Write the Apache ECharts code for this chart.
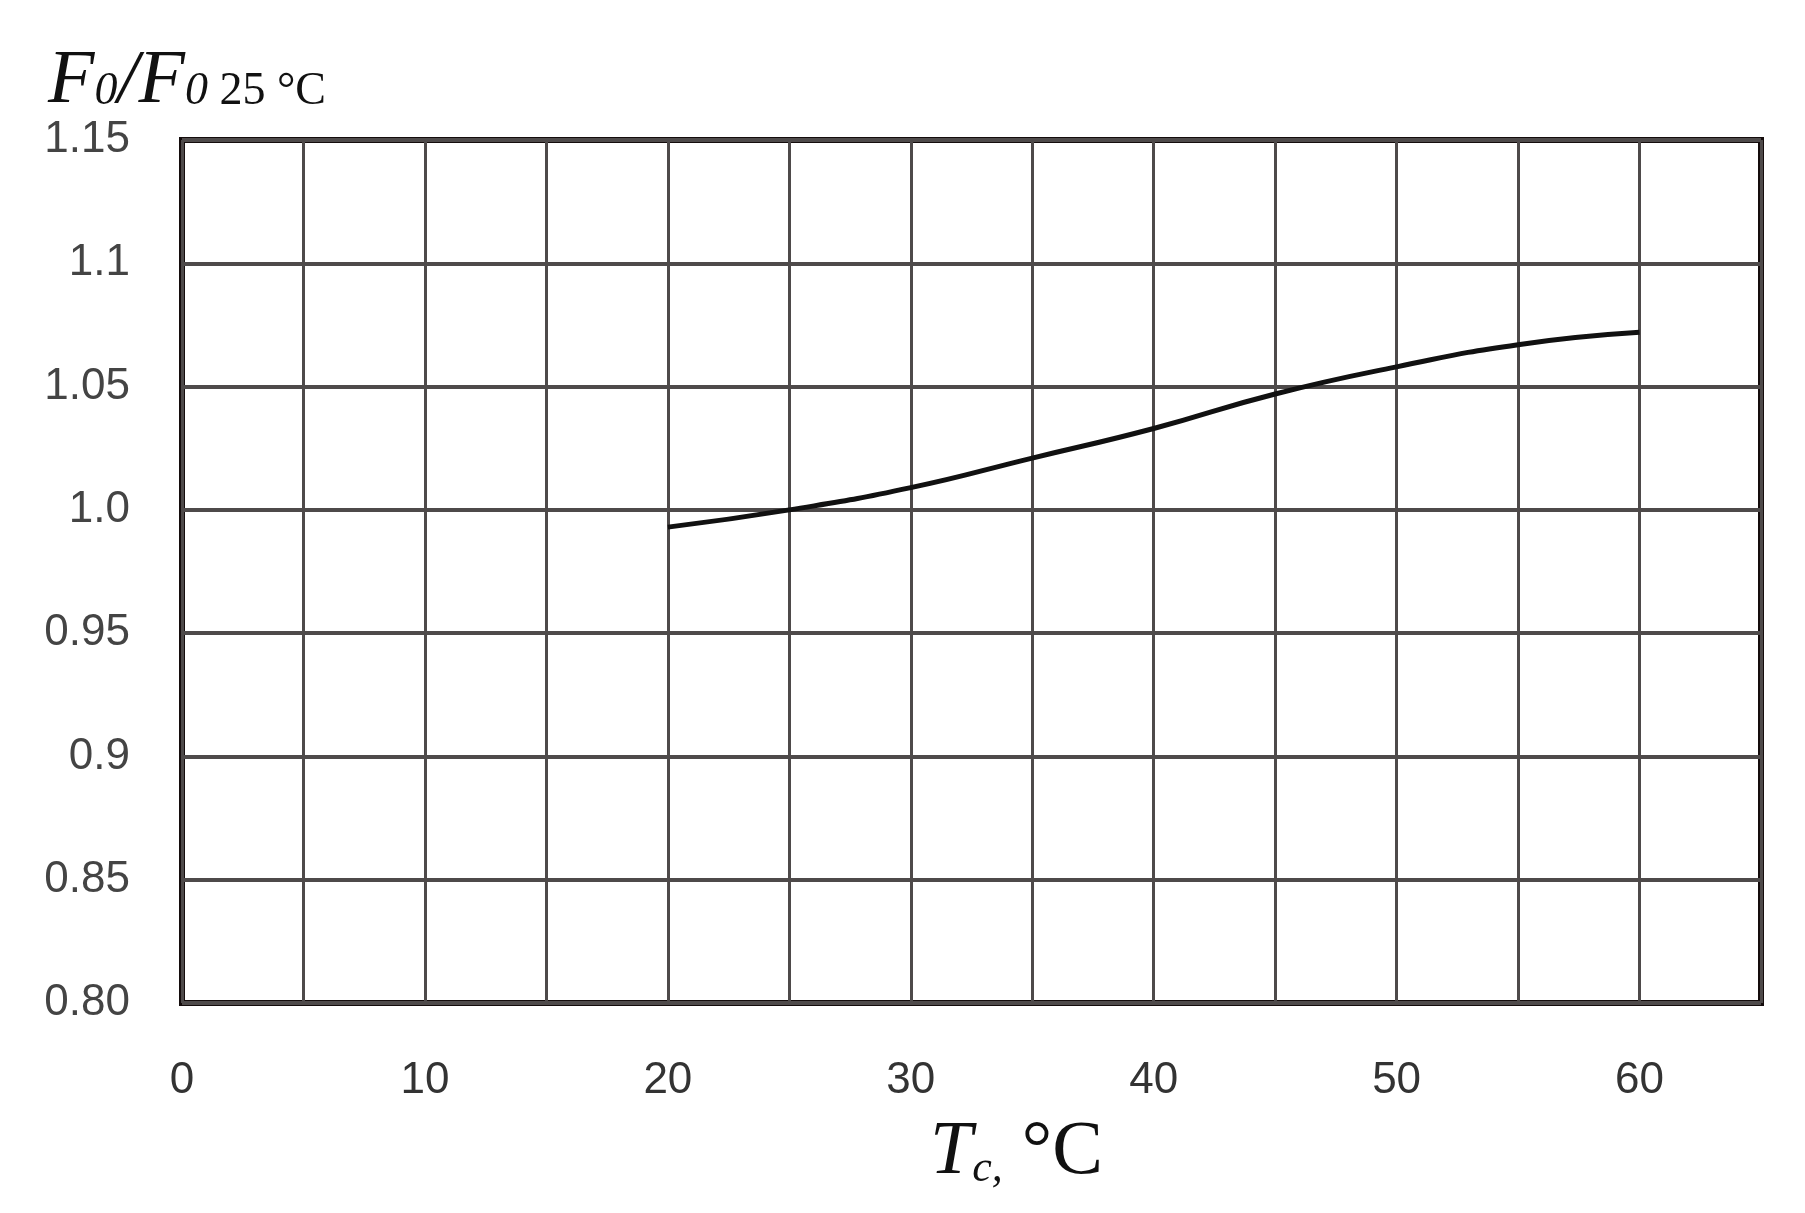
<!DOCTYPE html>
<html>
<head>
<meta charset="utf-8">
<script src="https://cdn.jsdelivr.net/npm/echarts@6/dist/echarts.min.js"></script>
<style>
html,body{margin:0;padding:0;background:#fff;}
#chart{width:1805px;height:1213px;}
</style>
</head>
<body>
<div id="chart"></div>
<script>
// Data
const tempC = [20, 25, 30, 35, 40, 45, 50, 55, 60];
const ratio = [0.993, 1.000, 1.009, 1.021, 1.033, 1.047, 1.058, 1.067, 1.072];
const xTickLabels = {0: '0', 10: '10', 20: '20', 30: '30', 40: '40', 50: '50', 60: '60'};
const yTickLabels = ['0.80', '0.85', '0.9', '0.95', '1.0', '1.05', '1.1', '1.15'];
const yTickValues = [0.80, 0.85, 0.90, 0.95, 1.00, 1.05, 1.10, 1.15];

const chart = echarts.init(document.getElementById('chart'), null, {renderer: 'canvas'});
const serif = '"Liberation Serif", "DejaVu Serif", serif';
const sans = '"Liberation Sans", Arial, sans-serif';

function yLabel(v) {
  for (let i = 0; i < yTickValues.length; i++) {
    if (Math.abs(yTickValues[i] - v) < 1e-6) return yTickLabels[i];
  }
  return '';
}
function xLabel(v) {
  const k = Math.round(v);
  return (Math.abs(v - k) < 1e-6 && xTickLabels[k] !== undefined) ? xTickLabels[k] : '';
}

chart.setOption({
  animation: false,
  backgroundColor: '#ffffff',
  title: [
    {
      left: 43, top: 39,
      text: '{a|F}{b|0}{a|/F}{b|0 }{c|25 °C}',
      textStyle: {
        fontWeight: 'normal',
        rich: {
          a: {fontFamily: serif, fontStyle: 'italic', fontWeight: 'normal', fontSize: 76, color: '#111', lineHeight: 76, verticalAlign: 'bottom'},
          b: {fontFamily: serif, fontStyle: 'italic', fontWeight: 'normal', fontSize: 46, color: '#111', lineHeight: 46, verticalAlign: 'bottom', padding: [0,0,5,0]},
          c: {fontFamily: serif, fontWeight: 'normal', fontSize: 46, color: '#111', lineHeight: 46, verticalAlign: 'bottom', padding: [0,0,5,0]}
        }
      }
    },
    {
      left: 925, top: 1110,
      text: '{a|T}{b|c,}{d| °C}',
      textStyle: {
        fontWeight: 'normal',
        rich: {
          a: {fontFamily: serif, fontStyle: 'italic', fontWeight: 'normal', fontSize: 76, color: '#111', lineHeight: 76, verticalAlign: 'bottom'},
          b: {fontFamily: serif, fontStyle: 'italic', fontWeight: 'normal', fontSize: 44, color: '#111', lineHeight: 44, verticalAlign: 'bottom'},
          d: {fontFamily: serif, fontWeight: 'normal', fontSize: 76, color: '#111', lineHeight: 76, verticalAlign: 'bottom'}
        }
      }
    }
  ],
  grid: {
    left: 182, right: 44, top: 140, bottom: 210,
    show: true, borderColor: '#140c0c', borderWidth: 6, backgroundColor: 'transparent'
  },
  xAxis: {
    type: 'value', min: 0, max: 65, interval: 5,
    axisLine: {show: false},
    axisTick: {show: false},
    splitLine: {show: true, lineStyle: {color: '#4e4a4a', width: 3}},
    axisLabel: {
      margin: 56, fontFamily: sans, fontSize: 44, color: '#333',
      formatter: xLabel, showMaxLabel: false
    }
  },
  yAxis: {
    type: 'value', min: 0.8, max: 1.15, interval: 0.05,
    axisLine: {show: false},
    axisTick: {show: false},
    splitLine: {show: true, lineStyle: {color: '#4e4a4a', width: 4}},
    axisLabel: {
      margin: 52, fontFamily: sans, fontSize: 44, color: '#444',
      formatter: yLabel
    }
  },
  series: [{
    type: 'line',
    data: tempC.map((t, i) => [t, ratio[i]]),
    smooth: true,
    showSymbol: false,
    lineStyle: {color: '#111', width: 5},
    z: 5
  }]
});
</script>
</body>
</html>
